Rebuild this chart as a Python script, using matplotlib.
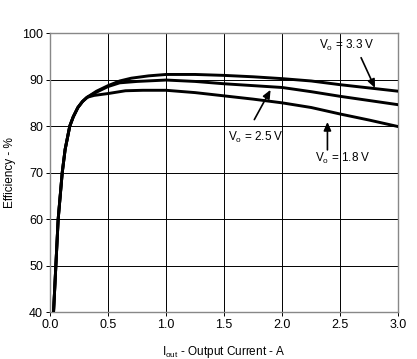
import matplotlib
matplotlib.use("Agg")
import matplotlib.pyplot as plt
import numpy as np

plt.rcParams['font.family'] = ['Liberation Sans', 'DejaVu Sans']
plt.rcParams['mathtext.fontset'] = 'custom'
plt.rcParams['mathtext.rm'] = 'Liberation Sans'
plt.rcParams['mathtext.it'] = 'Liberation Sans'

# Shared start-up part of the curves
common_x = [0.03, 0.05, 0.07, 0.105, 0.13, 0.17, 0.20, 0.24, 0.28, 0.32]
common_y = [40.0, 50.0, 60.0, 70.0, 75.0, 80.0, 82.0, 84.0, 85.3, 86.2]

# Vo = 3.3 V
v33_x = [0.40, 0.50, 0.60, 0.70, 0.85, 1.00, 1.25, 1.50, 1.75, 2.00, 2.25, 2.50, 2.75, 3.00]
v33_y = [87.5, 88.7, 89.7, 90.3, 90.8, 91.1, 91.1, 90.9, 90.6, 90.2, 89.7, 88.9, 88.2, 87.5]

# Vo = 2.5 V
v25_x = [0.40, 0.50, 0.60, 0.75, 1.00, 1.25, 1.50, 1.75, 2.00, 2.25, 2.50, 2.75, 3.00]
v25_y = [87.3, 88.5, 89.3, 89.6, 89.9, 89.6, 89.1, 88.7, 88.3, 87.4, 86.4, 85.5, 84.6]

# Vo = 1.8 V
v18_x = [0.38, 0.50, 0.65, 0.80, 1.00, 1.25, 1.50, 1.75, 2.00, 2.25, 2.50, 2.75, 3.00]
v18_y = [86.6, 87.0, 87.6, 87.7, 87.7, 87.2, 86.5, 85.8, 85.0, 84.0, 82.6, 81.3, 79.9]

x_ticks = [0.0, 0.5, 1.0, 1.5, 2.0, 2.5, 3.0]
x_tick_labels = ['0.0', '0.5', '1.0', '1.5', '2.0', '2.5', '3.0']
y_ticks = [40, 50, 60, 70, 80, 90, 100]

labels = [r'V$_\mathrm{o}$ = 3.3 V', r'V$_\mathrm{o}$ = 2.5 V', r'V$_\mathrm{o}$ = 1.8 V']

fig = plt.figure(figsize=(4.17, 3.59), dpi=100)
ax = fig.add_axes([0.12, 0.13, 0.835, 0.778])

for sx, sy in [(v33_x, v33_y), (v25_x, v25_y), (v18_x, v18_y)]:
    ax.plot(common_x + sx, common_y + sy, color='black', lw=2.1,
            solid_joinstyle='round', solid_capstyle='butt', zorder=3)

ax.set_xlim(0, 3.0)
ax.set_ylim(40, 100)
ax.set_xticks(x_ticks)
ax.set_xticklabels(x_tick_labels)
ax.set_yticks(y_ticks)
ax.grid(True, color='black', lw=0.7)
for s in ax.spines.values():
    s.set_color('#888888')
    s.set_linewidth(1.0)
ax.tick_params(length=3, width=0.7, color='black', labelsize=9, pad=2)

ax.set_xlabel(r'I$_\mathrm{out}$ - Output Current - A', fontsize=8.5, labelpad=9)
ax.set_ylabel('Efficiency - %', fontsize=8.5, va='center')
ax.yaxis.set_label_coords(-0.114, 0.5)

arrow = dict(arrowstyle='-|>,head_length=0.5,head_width=0.22', color='black', lw=1.2,
             shrinkA=0, shrinkB=0)
ax.annotate('', xy=(2.80, 88.2), xytext=(2.68, 94.7), arrowprops=arrow, zorder=4)
ax.annotate('', xy=(1.90, 87.8), xytext=(1.76, 81.4), arrowprops=arrow, zorder=4)
ax.annotate('', xy=(2.39, 80.9), xytext=(2.39, 74.9), arrowprops=arrow, zorder=4)

ax.text(2.56, 97.4, labels[0], fontsize=8.5, ha='center', va='center', zorder=5)
ax.text(1.77, 77.6, labels[1], fontsize=8.5, ha='center', va='center', zorder=5)
ax.text(2.52, 73.1, labels[2], fontsize=8.5, ha='center', va='center', zorder=5)

fig.savefig('out.png', dpi=100)
